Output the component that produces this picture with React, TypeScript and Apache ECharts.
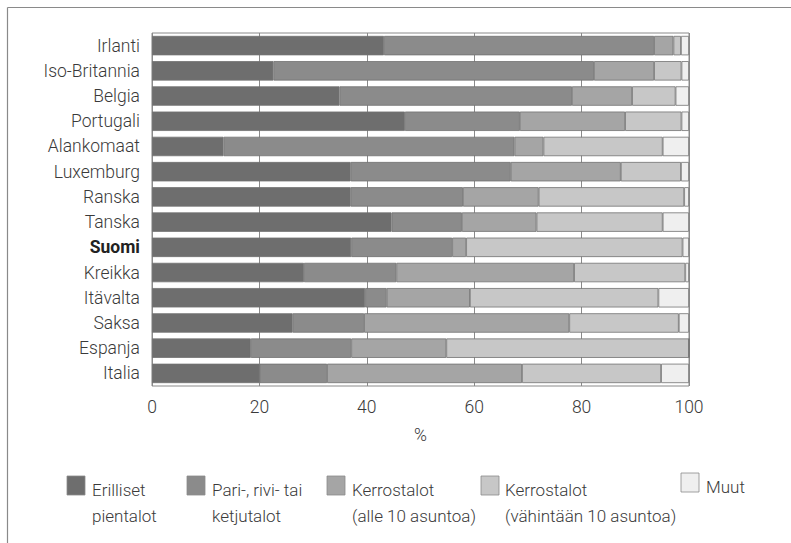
import React, { useEffect, useRef } from "react";
import * as echarts from "echarts";

const categories = ["Irlanti", "Iso-Britannia", "Belgia", "Portugali", "Alankomaat", "Luxemburg", "Ranska", "Tanska", "Suomi", "Kreikka", "Itävalta", "Saksa", "Espanja", "Italia"];
const erilliset = [43.2, 22.6, 34.9, 47.1, 13.3, 37.0, 37.0, 44.6, 37.1, 28.3, 39.7, 26.2, 18.4, 20.0];
const pari = [50.3, 59.7, 43.3, 21.4, 54.2, 29.8, 20.9, 13.1, 18.8, 17.2, 4.0, 13.3, 18.7, 12.6];
const kerrosAlle = [3.6, 11.2, 11.2, 19.6, 5.4, 20.5, 14.1, 13.9, 2.6, 33.1, 15.5, 38.2, 17.7, 36.3];
const kerrosVah = [1.4, 5.1, 8.1, 10.5, 22.2, 11.2, 27.1, 23.5, 40.3, 20.7, 35.1, 20.4, 45.2, 25.9];
const muut = [1.5, 1.4, 2.5, 1.4, 4.9, 1.5, 0.9, 4.9, 1.2, 0.7, 5.7, 1.9, 0, 5.2];

const seriesNames = ["Erilliset\npientalot", "Pari-, rivi- tai\nketjutalot", "Kerrostalot\n(alle 10 asuntoa)", "Kerrostalot\n(vähintään 10 asuntoa)", "Muut"];
const seriesData = [erilliset, pari, kerrosAlle, kerrosVah, muut];
const colors = ["#6e6e6e", "#8b8b8b", "#a5a5a5", "#c7c7c7", "#efefef"];
const xTicks = [0, 20, 40, 60, 80, 100];

const FONT = "Roboto, 'Liberation Sans', sans-serif";
const FW = 300;
const FS = 17.5;
const TEXT = "#3a3a3a";

// legend layout (positions only)
const legendX = [67, 187, 327, 481, 681];
const legendTextX = [92, 212, 352, 505, 706];
const legendY = [476, 476, 476, 476, 473];

export default function App() {
  const ref = useRef<HTMLDivElement>(null);
  useEffect(() => {
    if (!ref.current) return;
    const chart = echarts.init(ref.current, null, { renderer: "svg" });
    const graphic: any[] = [
      { type: "line", shape: { x1: 7.5, y1: 7.5, x2: 791, y2: 7.5 }, style: { stroke: "#8a8a8a", lineWidth: 1.2 } },
      { type: "line", shape: { x1: 7.5, y1: 7.5, x2: 7.5, y2: 543 }, style: { stroke: "#8a8a8a", lineWidth: 1.2 } },
    ];
    seriesNames.forEach((name, i) => {
      graphic.push({
        type: "rect",
        shape: { x: legendX[i], y: legendY[i], width: 18, height: 19 },
        style: { fill: colors[i], stroke: "#8a8a8a", lineWidth: 0.8 },
      });
      graphic.push({
        type: "text",
        x: legendTextX[i],
        y: legendY[i] + 1,
        style: { text: name, fontSize: 17, fontWeight: FW, fontFamily: FONT, fill: TEXT, lineHeight: 26, verticalAlign: "top", align: "left" },
      });
    });
    chart.setOption({
      animation: false,
      backgroundColor: "#ffffff",
      grid: { left: 152, right: 102, top: 33, bottom: 157, show: true, borderColor: "#8a8a8a", borderWidth: 1, backgroundColor: "transparent" },
      xAxis: {
        type: "value",
        min: 0,
        max: 100,
        interval: 20,
        name: "%",
        nameLocation: "middle",
        nameGap: 40,
        nameTextStyle: { fontSize: FS, fontWeight: FW, fontFamily: FONT, color: TEXT },
        axisLine: { show: false },
        axisTick: { show: false },
        splitLine: { show: true, lineStyle: { color: "#8a8a8a", width: 1 } },
        axisLabel: { fontSize: FS, fontWeight: FW, fontFamily: FONT, color: TEXT, margin: 12, formatter: (v: number) => (xTicks.includes(v) ? String(v) : "") },
      },
      yAxis: {
        type: "category",
        data: categories,
        inverse: true,
        axisLine: { show: false },
        axisTick: { show: false },
        splitLine: { show: false },
        axisLabel: {
          interval: 0,
          fontSize: FS,
          fontWeight: FW,
          fontFamily: FONT,
          color: TEXT,
          margin: 12,
          formatter: (v: string) => (v === "Suomi" ? "{b|" + v + "}" : v),
          rich: { b: { fontSize: FS, fontFamily: FONT, fontWeight: "bold", color: "#222" } },
        },
      },
      series: seriesData.map((d, i) => ({
        type: "bar",
        name: seriesNames[i],
        stack: "total",
        data: d,
        barCategoryGap: "23%",
        itemStyle: { color: colors[i], borderColor: "#727272", borderWidth: 0.8 },
        emphasis: { disabled: true },
      })),
      graphic,
    });
    return () => chart.dispose();
  }, []);
  return <div ref={ref} style={{ position: "fixed", left: 0, top: 0, width: 791, height: 543, background: "#fff" }} />;
}
